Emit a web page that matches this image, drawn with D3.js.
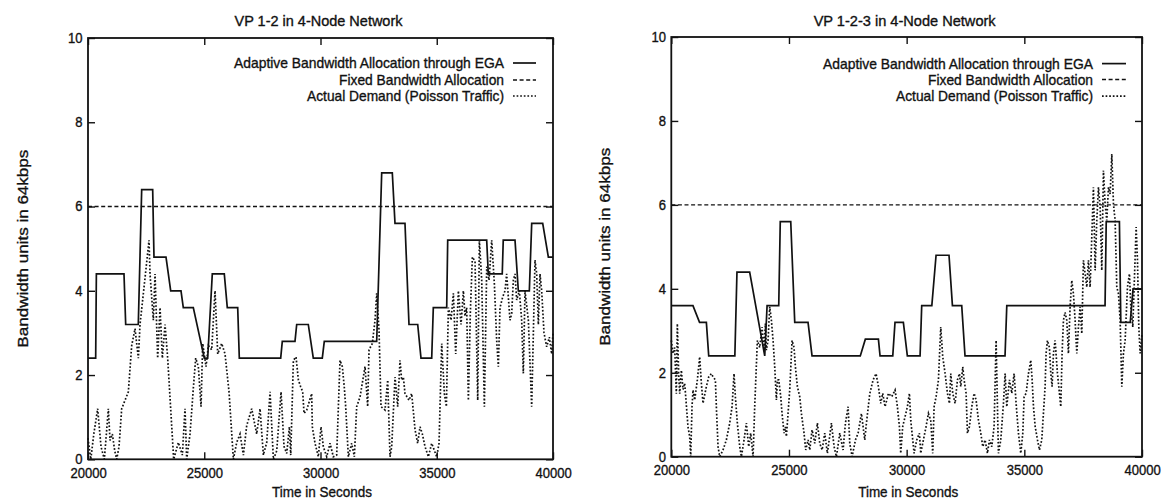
<!DOCTYPE html>
<html>
<head>
<meta charset="utf-8">
<script src="https://cdn.jsdelivr.net/npm/d3@7"></script>
<style>
  body { margin: 0; background: #fff; }
  svg text { font-family: "Liberation Sans", Arial, Helvetica, sans-serif; fill: #111; stroke: #111; stroke-width: 0.35px; }
</style>
</head>
<body>
<svg id="chart" width="1166" height="501"></svg>
<script>
// ---- data ---------------------------------------------------------------
const timeDomain = [20000, 40000];
const bwDomain = [0, 10];
const timeTicks = [20000, 25000, 30000, 35000, 40000];
const bwTicks = [0, 2, 4, 6, 8, 10];
const fixedAllocation = 6;
const legendLabels = [
  "Adaptive Bandwidth Allocation through EGA",
  "Fixed Bandwidth Allocation",
  "Actual Demand (Poisson Traffic)"
];
const xAxisTitle = "Time in Seconds";
const yAxisTitle = "Bandwidth units in 64kbps";

// VP 1-2: [time (s), bandwidth units]
const vp12Title = "VP 1-2 in 4-Node Network";
const vp12Ega = [
  [20000,2.4],[20330,2.4],[20360,4.4],[21548,4.4],[21621,3.2],[22163,3.2],[22309,6.4],[22782,6.4],
  [22838,4.8],[23355,4.8],[23557,4.0],[24000,4.0],[24099,3.6],[24529,3.6],[25002,2.4],[25148,2.4],
  [25346,4.4],[25862,4.4],[25991,3.6],[26439,3.6],[26508,2.4],[28288,2.4],[28357,2.8],[28903,2.8],
  [28976,3.2],[29475,3.2],[29690,2.4],[30077,2.4],[30163,2.8],[32417,2.8],[32632,6.8],[33088,6.8],
  [33204,5.6],[33634,5.6],[33806,3.2],[34181,3.2],[34322,2.4],[34783,2.4],[34852,3.6],[35428,3.6],
  [35471,5.2],[37148,5.2],[37217,4.4],[37817,4.4],[37860,5.2],[38366,5.2],[38509,4.0],[38982,4.0],
  [39084,5.6],[39557,5.6],[39800,4.8],[40000,4.8]
];
const vp12Demand = [
  [20000,0.5],[20120,0.0],[20250,0.6],[20416,1.2],[20560,0.3],[20703,0.0],[20790,0.6],[20875,1.2],
  [20947,0.45],[21047,0.6],[21150,0.2],[21234,0.0],[21334,0.3],[21449,1.2],[21735,1.6],[21879,2.7],
  [22022,3.1],[22166,2.4],[22237,3.2],[22452,4.3],[22624,5.2],[22668,4.4],[22811,3.3],[22883,4.4],
  [22997,2.4],[23098,3.6],[23198,2.4],[23313,3.2],[23427,2.4],[23685,0.0],[23886,0.4],[24058,0.1],
  [24173,1.2],[24245,0.0],[24388,0.6],[24532,1.7],[24632,2.4],[24747,2.2],[24862,1.25],[24933,2.75],
  [25077,2.2],[25177,2.7],[25320,2.6],[25464,4.0],[25579,2.5],[25751,2.75],[25894,2.5],[26066,1.6],
  [26253,0.0],[26396,0.4],[26539,0.6],[26683,0.1],[26826,0.8],[27041,1.2],[27256,0.6],[27400,1.2],
  [27543,0.1],[27687,0.4],[27830,1.6],[27974,0.0],[28117,0.2],[28303,1.6],[28432,0.3],[28547,0.14],
  [28662,0.77],[28719,0.1],[28834,2.35],[28948,2.43],[29049,1.88],[29149,1.72],[29235,1.6],[29292,1.09],
  [29407,1.17],[29620,1.56],[29649,0.77],[29764,0.38],[29907,0.06],[30022,0.77],[30122,0.3],[30266,0.06],
  [30409,0.38],[30552,0.06],[30696,0.1],[30839,2.35],[30939,2.2],[31025,1.7],[31083,1.25],[31198,0.06],
  [31341,0.38],[31456,0.06],[31556,1.25],[31700,1.48],[31915,2.2],[32029,1.25],[32087,2.6],[32230,2.75],
  [32345,3.3],[32417,3.94],[32517,3.07],[32603,1.25],[32775,1.17],[32890,1.88],[32990,0.06],[33062,0.3],
  [33205,1.95],[33320,1.25],[33420,2.35],[33492,1.88],[33564,1.95],[33635,1.56],[33807,1.4],[33922,1.56],
  [34066,0.7],[34180,0.38],[34281,0.77],[34381,0.6],[34496,0.3],[34639,0.06],[34783,0.38],[34998,0.06],
  [35098,0.38],[35213,2.75],[35328,1.56],[35414,1.25],[35500,3.6],[35614,3.3],[35715,3.94],[35815,2.5],
  [35930,4.0],[36045,3.2],[36145,4.0],[36217,3.4],[36288,3.6],[36360,1.4],[36446,3.5],[36532,4.8],
  [36647,4.7],[36762,1.4],[36833,5.2],[36934,4.25],[37048,1.25],[37149,4.57],[37249,4.25],[37364,5.2],
  [37478,4.17],[37577,2.83],[37649,2.2],[37721,3.6],[37835,3.85],[37936,4.0],[38007,4.4],[38079,3.85],
  [38151,3.3],[38223,3.46],[38294,4.25],[38366,4.4],[38438,3.78],[38552,4.0],[38653,3.3],[38724,2.04],
  [38796,4.0],[38940,3.3],[39083,1.25],[39155,2.99],[39226,4.73],[39298,4.4],[39370,3.2],[39441,4.4],
  [39513,4.0],[39613,3.0],[39728,2.67],[39843,2.9],[39943,2.5],[40000,3.0]
];

// VP 1-2-3: [time (s), bandwidth units]
const vp123Title = "VP 1-2-3 in 4-Node Network";
const vp123Ega = [
  [20000,3.6],[20920,3.6],[21200,3.2],[21490,3.2],[21590,2.4],[22700,2.4],[22790,4.4],[23330,4.4],
  [23970,2.4],[24070,3.6],[24565,3.6],[24630,5.6],[25075,5.6],[25245,3.2],[25810,3.2],[25980,2.4],
  [28030,2.4],[28245,2.8],[28800,2.8],[28870,2.4],[29410,2.4],[29505,3.2],[29860,3.2],[30030,2.4],
  [30570,2.4],[30640,3.6],[31070,3.6],[31250,4.8],[31800,4.8],[31945,3.6],[32340,3.6],[32480,2.4],
  [34180,2.4],[34255,3.6],[38430,3.6],[38480,5.6],[39040,5.6],[39100,3.2],[39500,3.2],[39620,4.0],
  [40000,4.0]
];
const vp123Demand = [
  [20000,2.77],[20073,2.46],[20144,2.6],[20214,1.5],[20257,3.17],[20313,1.98],[20356,1.5],[20427,2.06],
  [20498,1.6],[20569,1.75],[20710,0.71],[20781,0.48],[20824,0.0],[20880,1.19],[20923,1.59],[20994,1.35],
  [21107,1.83],[21206,2.38],[21277,1.75],[21348,1.27],[21490,1.67],[21589,1.9],[21702,1.98],[21773,1.9],
  [21872,1.83],[21915,1.19],[21986,0.24],[22056,0.0],[22198,0.16],[22340,0.4],[22482,0.8],[22581,1.19],
  [22666,1.98],[22722,1.43],[22807,0.8],[22907,0.24],[22978,0.0],[23091,0.4],[23190,0.8],[23289,0.24],
  [23374,0.56],[23474,0.0],[23544,1.19],[23657,2.77],[23757,2.6],[23856,3.09],[23941,2.54],[23998,3.17],
  [24040,2.54],[24111,2.77],[24182,3.57],[24253,3.25],[24324,2.77],[24395,2.14],[24465,1.35],[24508,1.83],
  [24565,1.83],[24650,1.43],[24706,1.03],[24791,0.56],[24848,0.71],[24890,0.48],[24961,1.03],[25032,1.59],
  [25131,2.77],[25216,2.6],[25273,2.14],[25358,1.67],[25457,1.43],[25528,1.03],[25641,0.56],[25712,0.16],
  [25812,0.4],[25882,0.16],[25982,0.64],[26095,0.32],[26208,0.8],[26307,0.32],[26407,0.16],[26520,0.56],
  [26633,0.08],[26803,0.8],[26917,0.24],[27016,0.0],[27158,0.56],[27300,0.16],[27399,0.8],[27512,1.19],
  [27583,0.32],[27682,0.0],[27824,0.4],[27937,0.56],[28079,1.03],[28220,0.4],[28291,0.8],[28433,1.5],
  [28575,1.83],[28700,1.98],[28800,1.67],[28898,1.27],[28983,1.51],[29083,1.19],[29225,1.51],[29366,1.43],
  [29508,1.59],[29607,1.19],[29692,0.72],[29749,0.08],[29834,0.72],[29933,0.95],[30032,1.19],[30117,1.51],
  [30174,0.87],[30259,0.4],[30316,0.08],[30429,0.4],[30542,0.56],[30599,0.08],[30712,0.4],[30826,0.72],
  [30925,1.03],[31024,0.87],[31109,0.08],[31166,1.19],[31251,1.43],[31350,1.82],[31449,3.09],[31534,2.38],
  [31634,1.98],[31733,1.51],[31818,1.27],[31874,1.98],[31959,1.51],[32058,1.27],[32158,1.83],[32243,1.98],
  [32299,1.67],[32384,2.14],[32441,1.83],[32526,1.51],[32583,0.56],[32668,0.72],[32767,1.19],[32866,1.51],
  [32951,1.35],[33051,0.87],[33150,0.56],[33235,0.24],[33334,0.4],[33433,0.08],[33518,0.4],[33617,0.24],
  [33716,0.72],[33801,2.77],[33858,1.19],[33900,0.08],[34000,0.4],[34113,1.27],[34184,1.98],[34254,1.19],
  [34368,1.83],[34467,1.51],[34566,1.98],[34651,1.27],[34750,0.56],[34850,0.08],[34935,0.56],[34991,1.43],
  [35076,1.51],[35176,1.98],[35275,2.3],[35332,1.83],[35389,1.19],[35460,0.72],[35559,0.4],[35644,0.16],
  [35740,0.4],[35812,1.03],[35883,1.67],[35925,2.46],[35982,2.77],[36067,2.6],[36124,1.99],[36180,1.67],
  [36237,2.46],[36308,2.77],[36407,1.99],[36492,1.51],[36549,1.19],[36605,2.46],[36662,3.25],[36733,3.44],
  [36804,3.25],[36874,2.46],[36945,3.57],[37016,4.2],[37087,3.88],[37158,3.25],[37229,2.46],[37300,3.09],
  [37370,3.57],[37441,2.93],[37512,4.68],[37583,4.36],[37654,4.04],[37725,4.68],[37795,4.04],[37866,5.23],
  [37937,6.42],[38008,4.44],[38079,5.63],[38150,6.42],[38221,5.94],[38291,4.44],[38362,6.82],[38433,6.02],
  [38504,5.63],[38575,6.42],[38646,6.26],[38717,7.21],[38787,6.02],[38858,5.63],[38929,4.04],[39000,3.88],
  [39071,3.25],[39142,1.67],[39212,2.46],[39283,2.77],[39382,4.04],[39467,4.36],[39524,3.57],[39609,3.09],
  [39666,4.04],[39751,5.47],[39808,4.68],[39864,3.09],[39921,2.46],[40000,2.93]
];

// ---- layout -------------------------------------------------------------
const panels = [
  { title: vp12Title, ega: vp12Ega, demand: vp12Demand,
    left: 88, right: 553, top: 38, bottom: 459.3,
    yLabelX: 23, legendRight: 504, sample: [513, 536], legendY: [63, 80, 96] },
  { title: vp123Title, ega: vp123Ega, demand: vp123Demand,
    left: 671.3, right: 1142, top: 37, bottom: 456.7,
    yLabelX: 605, legendRight: 1093, sample: [1102, 1126], legendY: [63.6, 79.5, 96.1] }
];

const ink = "#111";
const seriesStyle = [
  { dash: null,      width: 1.7 },   // adaptive allocation (solid)
  { dash: "4,2.6",   width: 1.3 },   // fixed allocation (dashed)
  { dash: "1.7,1.9", width: 1.7 }    // actual demand (dotted)
];
const legendWidths = [270, 165, 197];
const fontSize = 15;
const tickFontSize = 14.5;
const squeeze = 0.9;

const svg = d3.select("#chart");

function drawPanel(p) {
  const x = d3.scaleLinear().domain(timeDomain).range([p.left, p.right]);
  const y = d3.scaleLinear().domain(bwDomain).range([p.bottom, p.top]);
  const g = svg.append("g");
  const tick = 7;
  const [x0, x1] = x.range();
  const [y0, y1] = y.range();

  // inward ticks on all four sides
  g.append("g").attr("class", "xlab").attr("transform", `translate(0,${y0})`)
    .call(d3.axisBottom(x).tickValues(timeTicks).tickSizeInner(-tick).tickSizeOuter(0)
      .tickPadding(8).tickFormat(d3.format("d")));
  g.append("g").attr("transform", `translate(0,${y1})`)
    .call(d3.axisTop(x).tickValues(timeTicks).tickSizeInner(-tick).tickSizeOuter(0).tickFormat(""));
  g.append("g").attr("class", "ylab").attr("transform", `translate(${x0},0)`)
    .call(d3.axisLeft(y).tickValues(bwTicks).tickSizeInner(-tick).tickSizeOuter(0)
      .tickPadding(6).tickFormat(d3.format("d")));
  g.append("g").attr("transform", `translate(${x1},0)`)
    .call(d3.axisRight(y).tickValues(bwTicks).tickSizeInner(-tick).tickSizeOuter(0).tickFormat(""));
  g.selectAll(".domain").remove();
  g.selectAll(".tick line").attr("stroke", ink).attr("stroke-width", 1.4);
  g.selectAll(".tick text")
    .attr("font-size", tickFontSize)
    .attr("fill", ink)
    .attr("transform", `scale(${squeeze},1)`);
  g.selectAll(".ylab .tick text").attr("dy", "0.3em");
  g.selectAll("g").attr("font-family", null).attr("font-size", null);

  // frame
  g.append("rect")
    .attr("x", x0).attr("y", y1)
    .attr("width", x1 - x0).attr("height", y0 - y1)
    .attr("fill", "none").attr("stroke", ink).attr("stroke-width", 1.8);

  // fixed allocation
  g.append("line")
    .attr("x1", x(timeDomain[0])).attr("x2", x(timeDomain[1]))
    .attr("y1", y(fixedAllocation)).attr("y2", y(fixedAllocation))
    .attr("stroke", ink).attr("stroke-width", seriesStyle[1].width)
    .attr("stroke-dasharray", seriesStyle[1].dash);

  const line = d3.line().x(d => x(d[0])).y(d => y(d[1]));

  // actual demand
  g.append("path").datum(p.demand)
    .attr("d", line).attr("fill", "none")
    .attr("stroke", ink).attr("stroke-width", seriesStyle[2].width)
    .attr("stroke-dasharray", seriesStyle[2].dash);

  // adaptive allocation
  g.append("path").datum(p.ega)
    .attr("d", line).attr("fill", "none")
    .attr("stroke", ink).attr("stroke-width", seriesStyle[0].width)
    .attr("stroke-linejoin", "miter");

  // legend
  legendLabels.forEach((label, i) => {
    g.append("text")
      .attr("x", p.legendRight).attr("y", p.legendY[i] + 5)
      .attr("text-anchor", "end").attr("font-size", fontSize)
      .attr("textLength", legendWidths[i]).attr("lengthAdjust", "spacingAndGlyphs")
      .text(label);
    g.append("line")
      .attr("x1", p.sample[0]).attr("x2", p.sample[1])
      .attr("y1", p.legendY[i]).attr("y2", p.legendY[i])
      .attr("stroke", ink).attr("stroke-width", seriesStyle[i].width)
      .attr("stroke-dasharray", seriesStyle[i].dash);
  });

  // titles
  const cx = (x0 + x1) / 2;
  g.append("text")
    .attr("x", cx - 2).attr("y", 26)
    .attr("text-anchor", "middle").attr("font-size", fontSize)
    .attr("textLength", p.title.length > 24 ? 182 : 168).attr("lengthAdjust", "spacingAndGlyphs")
    .text(p.title);
  g.append("text")
    .attr("x", cx + 1.5).attr("y", 497)
    .attr("text-anchor", "middle").attr("font-size", fontSize)
    .attr("textLength", 100).attr("lengthAdjust", "spacingAndGlyphs")
    .text(xAxisTitle);
  g.append("text")
    .attr("transform", `translate(${p.yLabelX},${(y0 + y1) / 2}) rotate(-90)`)
    .attr("text-anchor", "middle").attr("dy", "0.35em").attr("font-size", fontSize)
    .attr("textLength", 198).attr("lengthAdjust", "spacingAndGlyphs")
    .text(yAxisTitle);
}

panels.forEach(drawPanel);
</script>
</body>
</html>
